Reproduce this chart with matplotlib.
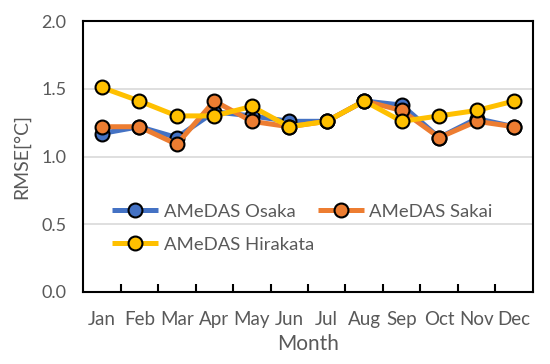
import matplotlib
matplotlib.use('Agg')
import matplotlib.pyplot as plt
import numpy as np

months = ['Jan', 'Feb', 'Mar', 'Apr', 'May', 'Jun', 'Jul', 'Aug', 'Sep', 'Oct', 'Nov', 'Dec']
osaka = [1.17, 1.22, 1.14, 1.33, 1.30, 1.26, 1.26, 1.41, 1.38, 1.14, 1.28, 1.22]
sakai = [1.22, 1.22, 1.09, 1.41, 1.26, 1.22, 1.26, 1.41, 1.34, 1.14, 1.26, 1.22]
hirakata = [1.51, 1.41, 1.30, 1.30, 1.37, 1.22, 1.26, 1.41, 1.26, 1.30, 1.34, 1.41]

series = [
    ('AMeDAS Osaka', osaka, '#4472C4'),
    ('AMeDAS Sakai', sakai, '#ED7D31'),
    ('AMeDAS Hirakata', hirakata, '#FFC000'),
]

plt.rcParams['font.family'] = ['Lato', 'DejaVu Sans']
text_color = '#595959'

fig = plt.figure(figsize=(5.5, 3.64), dpi=100)
ax = fig.add_axes([0.151, 0.198, 0.818, 0.744])

x = np.arange(len(months))
lines = {}
for label, vals, color in series:
    lines[label], = ax.plot(x, vals, color=color, lw=3.6, marker='o', markersize=10,
                            markerfacecolor=color, markeredgecolor='black', markeredgewidth=1.5,
                            label=label, solid_capstyle='butt', zorder=3)

ax.set_xlim(-0.5, len(months) - 0.5)
ax.set_ylim(0, 2.0)
ax.set_yticks([0.0, 0.5, 1.0, 1.5, 2.0])
ax.set_yticklabels([f'{v:.1f}' for v in [0.0, 0.5, 1.0, 1.5, 2.0]])
ax.yaxis.grid(True, color='#d9d9d9', lw=1.2, zorder=0)
ax.tick_params(axis='y', length=0, pad=12, labelsize=13, labelcolor=text_color)

ax.set_xticks(x)
ax.set_xticklabels(months)
ax.tick_params(axis='x', which='major', length=0, pad=14, labelsize=13.5, labelcolor=text_color)
ax.set_xticks(np.arange(0.5, len(months) - 1, 1.0), minor=True)
ax.tick_params(axis='x', which='minor', direction='in', length=6, width=1.5, color='black')

for s in ax.spines.values():
    s.set_color('black')
    s.set_linewidth(1.5)

ax.set_xlabel('Month', fontsize=15, color=text_color, labelpad=4)
ax.set_ylabel('RMSE[\u00b0C]', fontsize=14, color=text_color, labelpad=8)

# legend fills column-wise, so reorder to get Osaka, Sakai on the first row
order = ['AMeDAS Osaka', 'AMeDAS Hirakata', 'AMeDAS Sakai']
leg = ax.legend([lines[k] for k in order], order, ncol=2, loc='upper left',
                bbox_to_anchor=(0.064, 0.325), frameon=False, borderpad=0,
                fontsize=13.3, handlelength=2.5, columnspacing=0.2, handletextpad=0.3,
                labelspacing=0.9, borderaxespad=0)
for t in leg.get_texts():
    t.set_color(text_color)

fig.savefig('out.png', dpi=100)
